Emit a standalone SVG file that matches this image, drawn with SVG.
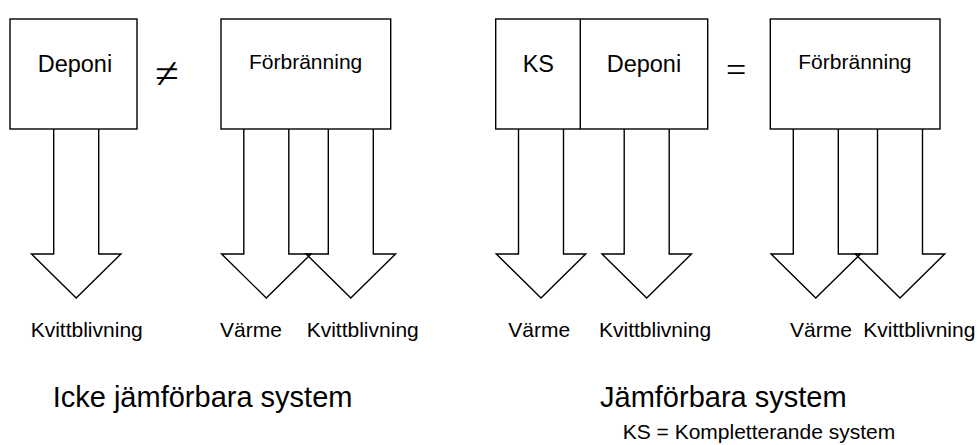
<svg xmlns="http://www.w3.org/2000/svg" xmlns:xlink="http://www.w3.org/1999/xlink" width="978" height="445" viewBox="0 0 978 445">
  <style>
    .box { fill: #fff; stroke: #000; stroke-width: 1.4; }
    .flow { fill: none; stroke: #000; stroke-width: 1.4; stroke-linejoin: miter; }
    text { font-family: "Liberation Sans", Arial, sans-serif; fill: #000; }
    .name { font-size: 23.5px; }
    .name-s { font-size: 21px; }
    .lbl { font-size: 21px; }
    .title { font-size: 29px; }
    .sym { font-family: "Liberation Serif", "Times New Roman", serif; }
  </style>
  <defs>
    <!-- broad downward output arrow, centred on x=0, hanging from a box bottom at y=129 -->
    <path id="out" d="M-22.5,129 V254 H-44.7 L0,298 L44.7,254 H22.5 V129"/>
  </defs>

  <g id="connectors">
    <use xlink:href="#out" href="#out" class="flow" x="76.2"/>
    <use xlink:href="#out" href="#out" class="flow" x="266.3"/>
    <use xlink:href="#out" href="#out" class="flow" x="350.8"/>
    <use xlink:href="#out" href="#out" class="flow" x="541"/>
    <use xlink:href="#out" href="#out" class="flow" x="646.7"/>
    <use xlink:href="#out" href="#out" class="flow" x="815.8"/>
    <use xlink:href="#out" href="#out" class="flow" x="900"/>
  </g>

  <!-- left: non-comparable systems -->
  <g id="deponi-1">
    <rect class="box" x="10" y="19" width="127" height="110"/>
    <text class="name" x="37.7" y="71.7">Deponi</text>
  </g>
  <text class="sym" x="155" y="88" font-size="43">≠</text>
  <g id="forbranning-1">
    <rect class="box" x="221" y="19" width="169.7" height="110"/>
    <text class="name-s" x="249" y="69">Förbränning</text>
  </g>

  <!-- right: comparable systems -->
  <g id="ks-deponi">
    <rect class="box" x="495.7" y="19" width="212" height="110"/>
    <line class="box" x1="580.3" y1="19" x2="580.3" y2="129"/>
    <text class="name" x="522.7" y="71.7">KS</text>
    <text class="name" x="606.7" y="71.7">Deponi</text>
  </g>
  <text class="sym" x="726" y="82" font-size="36">=</text>
  <g id="forbranning-2">
    <rect class="box" x="770.3" y="19" width="169.7" height="110"/>
    <text class="name-s" x="798.3" y="69">Förbränning</text>
  </g>

  <!-- output labels -->
  <g id="labels">
    <text class="lbl" x="30.7" y="336.5">Kvittblivning</text>
    <text class="lbl" x="220" y="336.5">Värme</text>
    <text class="lbl" x="306.7" y="336.5">Kvittblivning</text>
    <text class="lbl" x="508.3" y="336.5">Värme</text>
    <text class="lbl" x="599" y="336.5">Kvittblivning</text>
    <text class="lbl" x="790" y="336.5">Värme</text>
    <text class="lbl" x="863.3" y="336.5">Kvittblivning</text>
  </g>

  <text class="title" x="52.7" y="407.3">Icke jämförbara system</text>
  <text class="title" x="600" y="407.3">Jämförbara system</text>
  <text class="lbl" x="622.7" y="439.3">KS = Kompletterande system</text>
</svg>
